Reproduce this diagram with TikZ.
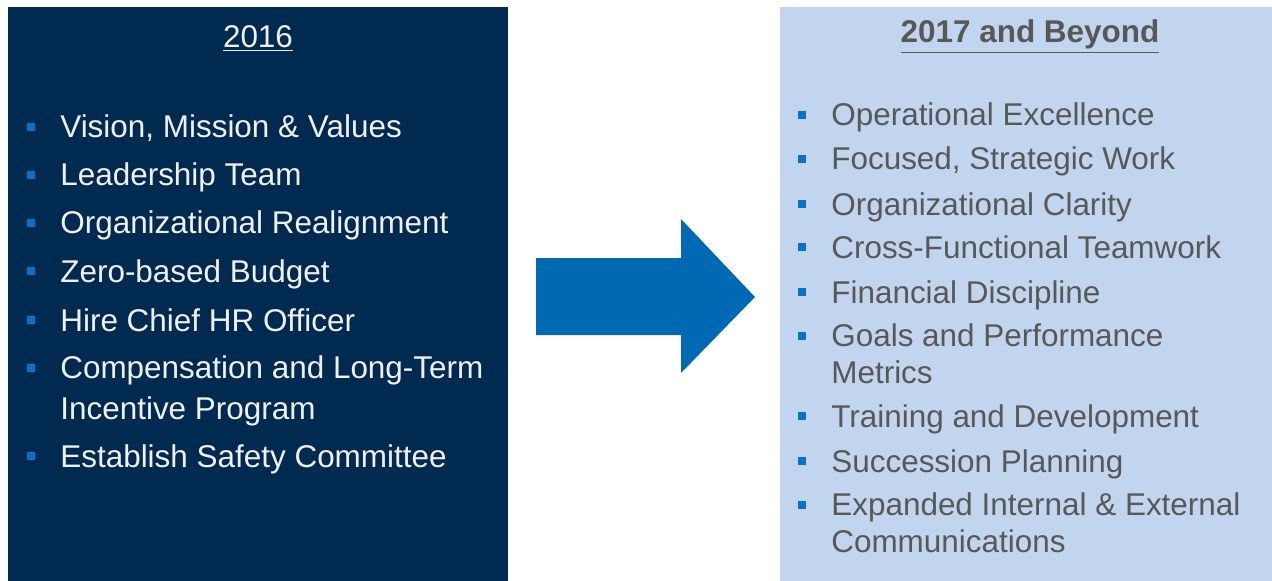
\documentclass[tikz,border=0pt]{standalone}
\usepackage{fontspec}
\setmainfont{Liberation Sans}
\definecolor{navy}{HTML}{012A50}
\definecolor{paleblue}{HTML}{C2D5EE}
\definecolor{arrowblue}{HTML}{0069B4}
\definecolor{dotblue}{HTML}{0A72C6}
\definecolor{greytext}{HTML}{585858}

\begin{document}
\begin{tikzpicture}[x=0.02cm,y=-0.02cm,
  lefttext/.style={anchor=base west,inner sep=0pt,align=left,text=white!94!black,
    font=\fontsize{17.9}{22.8}\selectfont},
  righttext/.style={anchor=base west,inner sep=0pt,align=left,text=greytext,
    font=\fontsize{17.9}{20.5}\selectfont},
  dot/.style={fill=dotblue,inner sep=0pt,minimum size=0.16cm}]
  \useasboundingbox (0,0) rectangle (1272,581);
  \fill[white] (0,0) rectangle (1272,581);
  % the two panels
  \fill[navy] (8,7) rectangle (508,581);
  \fill[paleblue] (780,7) rectangle (1272,581);
  \node[lefttext,anchor=base] (t2016) at (258,48) {\underline{2016}};
  \node[righttext,anchor=base,font=\fontsize{17.9}{20.5}\selectfont\bfseries] (tbeyond) at (1030,43) {\underline{2017 and Beyond}};
  % items of 2016 (dot row / baseline of last line / text)
  \foreach \y/\b/\txt [count=\i] in {138/138/{Vision, Mission \& Values},186/186/{Leadership Team},
      234/234/{Organizational Realignment},282/282/{Zero-based Budget},331/331/{Hire Chief HR Officer},
      379/419/{Compensation and Long-Term\\Incentive Program},467/467/{Establish Safety Committee}}{
    \node[dot] (ldot\i) at (31,\y-11) {};
    \node[lefttext] (litem\i) at (60,\b) {\txt};
  }
  % items of 2017 and beyond
  \foreach \y/\b/\txt [count=\i] in {126/126/{Operational Excellence},170/170/{Focused, Strategic Work},
      215/215/{Organizational Clarity},258/258/{Cross-Functional Teamwork},303/303/{Financial Discipline},
      347/383/{Goals and Performance\\Metrics},427/427/{Training and Development},
      472/472/{Succession Planning},516/552/{Expanded Internal \& External\\Communications}}{
    \node[dot] (rdot\i) at (802,\y-11) {};
    \node[righttext] (ritem\i) at (831,\b) {\txt};
  }
  % big arrow between the panels
  \fill[arrowblue] (536,258) -- (681,258) -- (681,219) -- (755,297) -- (681,373)
    -- (681,335) -- (536,335) -- cycle;
\end{tikzpicture}
\end{document}
